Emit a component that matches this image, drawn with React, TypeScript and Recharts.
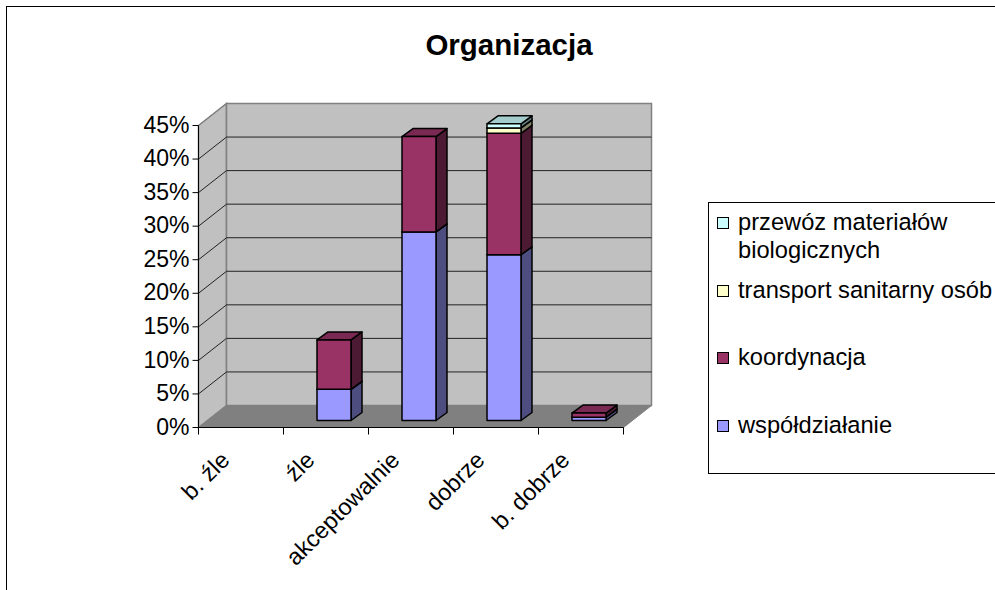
import { BarChart, Bar, XAxis, YAxis, CartesianGrid, Legend } from "recharts";

const CATEGORIES = ["b. źle", "źle", "akceptowalnie", "dobrze", "b. dobrze"];
const WSPOLDZIALANIE = [0, 4.65, 28.1, 24.7, 0.5];
const KOORDYNACJA = [0, 7.35, 14.2, 18.1, 0.6];
const TRANSPORT = [0, 0, 0, 0.8, 0];
const PRZEWOZ = [0, 0, 0, 0.6, 0];
const PERCENT_TICKS = [0, 5, 10, 15, 20, 25, 30, 35, 40, 45];

const data = CATEGORIES.map((name, i) => ({
  name,
  wsp: WSPOLDZIALANIE[i],
  koo: KOORDYNACJA[i],
  tra: TRANSPORT[i],
  prz: PRZEWOZ[i],
}));

const FONT = '"Liberation Sans", Arial, sans-serif';
const DEPTH_X = 28;
const DEPTH_Y = 22;
const BAND = 85;
const LEFT = 198.5;
const TOP = 125.5;
const BOTTOM = 427.5;
const RIGHT = 623.5;

const shade = (hex: string, k: number) => {
  const n = parseInt(hex.slice(1), 16);
  const c = (v: number) => Math.round(v * k);
  return `rgb(${c((n >> 16) & 255)},${c((n >> 8) & 255)},${c(n & 255)})`;
};

// 3d box for one stack segment, moved onto the middle of the floor
const Box3D = ({ x, y, width, height, fill }: any) => {
  if (!height || height <= 0) return null;
  const fx = x + 7.5;
  const fy = y - 7;
  const dx = 11;
  const dy = 8;
  const r = fx + width;
  const b = fy + height;
  return (
    <g stroke="#000" strokeWidth={1.5} strokeLinejoin="round">
      <path d={`M${r} ${fy}L${r + dx} ${fy - dy}V${b - dy}L${r} ${b}Z`} fill={shade(fill, 0.5)} />
      <path d={`M${fx} ${fy}L${fx + dx} ${fy - dy}H${r + dx}L${r} ${fy}Z`} fill={shade(fill, 0.8)} />
      <rect x={fx} y={fy} width={width} height={height} fill={fill} />
    </g>
  );
};

// frame, title and the walls sit behind the transparent chart
const Backdrop = () => (
  <svg width={995} height={590} style={{ position: "absolute", left: 0, top: 0 }}>
    <rect x={6.5} y={6.5} width={1100} height={700} fill="#fff" stroke="#000" />
    <text x={509} y={55} textAnchor="middle" fontFamily={FONT} fontSize={29.5} fontWeight="bold" fill="#000">
      Organizacja
    </text>
    <path
      d={`M${LEFT} ${TOP}L${LEFT + DEPTH_X} ${TOP - DEPTH_Y}V${BOTTOM - DEPTH_Y}L${LEFT} ${BOTTOM}Z`}
      fill="#c0c0c0" stroke="#808080" strokeWidth={1.5}
    />
    <rect
      x={LEFT + DEPTH_X} y={TOP - DEPTH_Y} width={RIGHT - LEFT} height={BOTTOM - TOP}
      fill="#c0c0c0" stroke="#808080" strokeWidth={1.5}
    />
    <path
      d={`M${LEFT} ${BOTTOM}L${LEFT + DEPTH_X} ${BOTTOM - DEPTH_Y}H${RIGHT + DEPTH_X}L${RIGHT} ${BOTTOM}Z`}
      fill="#808080" stroke="#808080"
    />
  </svg>
);

const gridLine = ({ x1, y1, x2, index }: any) => {
  if (y1 >= BOTTOM - 1) return <g key={index} />;
  return (
    <path
      key={index}
      d={`M${x1} ${y1}L${x1 + DEPTH_X} ${y1 - DEPTH_Y}H${x2 + DEPTH_X}`}
      fill="none"
      stroke={y1 <= TOP + 1 ? "#808080" : "#222"}
      strokeWidth={1}
    />
  );
};

// ticks sit on the category borders, labels are turned 45 degrees
const CategoryTick = ({ x, y, payload, index }: any) => {
  const left = x - BAND / 2;
  const lx = x - 10;
  const ly = y + 26;
  return (
    <g>
      <path d={`M${left} ${y - 8}v7`} stroke="#000" />
      {index === CATEGORIES.length - 1 && <path d={`M${left + BAND} ${y - 8}v7`} stroke="#000" />}
      <text
        x={lx}
        y={ly}
        textAnchor="end"
        transform={`rotate(-45 ${lx} ${ly})`}
        fontFamily={FONT}
        fontSize={23.5}
        fill="#000"
      >
        {payload.value}
      </text>
    </g>
  );
};

const LegendBox = ({ payload }: any) => {
  const rows = [...(payload ?? [])].reverse();
  const tops = [5, 73, 140, 208];
  return (
    <div style={{ position: "relative", width: 300, height: 272, border: "1px solid #000", boxSizing: "border-box", fontFamily: FONT, fontSize: 23.7, lineHeight: "28px", color: "#000" }}>
      {rows.map((e: any, i: number) => (
        <div key={i} style={{ position: "absolute", left: 8.5, top: tops[i], width: 288, display: "flex" }}>
          <span style={{ width: 10, height: 10, marginTop: 9, marginRight: 9, flexShrink: 0, border: "1.5px solid #000", background: e.color }} />
          <span>{e.value}</span>
        </div>
      ))}
    </div>
  );
};

export default function App() {
  return (
    <div style={{ position: "absolute", left: 0, top: 0, width: 995, height: 590, overflow: "hidden", background: "#fff" }}>
      <Backdrop />
      <div style={{ position: "absolute", left: 0, top: 0 }}>
        <BarChart
          width={995}
          height={590}
          data={data}
          barSize={34}
          margin={{ top: TOP, right: 995 - RIGHT, bottom: 590 - BOTTOM - 100, left: 0 }}
        >
          <CartesianGrid vertical={false} horizontal={gridLine} />
          <XAxis
            dataKey="name"
            interval={0}
            height={100}
            tick={<CategoryTick />}
            tickLine={false}
            axisLine={{ stroke: "#000" }}
          />
          <YAxis
            width={LEFT}
            domain={[0, 45]}
            ticks={PERCENT_TICKS}
            interval={0}
            tickFormatter={(v: number) => `${v}%`}
            tick={{ fontFamily: FONT, fontSize: 23, fill: "#000", dy: -1 }}
            tickSize={6}
            tickMargin={3}
            axisLine={{ stroke: "#000" }}
            tickLine={{ stroke: "#000" }}
          />
          <Bar dataKey="wsp" name="współdziałanie" stackId="a" fill="#9999ff" shape={<Box3D />} isAnimationActive={false} />
          <Bar dataKey="koo" name="koordynacja" stackId="a" fill="#993366" shape={<Box3D />} isAnimationActive={false} />
          <Bar dataKey="tra" name="transport sanitarny osób" stackId="a" fill="#ffffcc" shape={<Box3D />} isAnimationActive={false} />
          <Bar dataKey="prz" name="przewóz materiałów biologicznych" stackId="a" fill="#ccffff" shape={<Box3D />} isAnimationActive={false} />
          <Legend
            layout="vertical"
            align="center"
            verticalAlign="middle"
            itemSorter={null}
            content={<LegendBox />}
            wrapperStyle={{ left: 707.5, top: 201.5, width: 300, height: 272 }}
          />
        </BarChart>
      </div>
    </div>
  );
}
